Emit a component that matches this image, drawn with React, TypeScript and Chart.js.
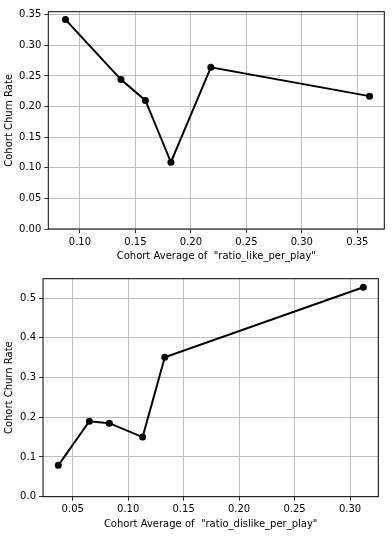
import React, { useEffect, useRef } from "react";
import { Chart, registerables } from "chart.js";

Chart.register(...registerables);

// ---- Data ----
const likeX = [0.087, 0.137, 0.159, 0.182, 0.218, 0.361];
const likeChurn = [0.342, 0.244, 0.210, 0.109, 0.264, 0.217];
const dislikeX = [0.037, 0.065, 0.083, 0.113, 0.133, 0.312];
const dislikeChurn = [0.079, 0.190, 0.185, 0.150, 0.351, 0.527];

const likeXTicks = [0.10, 0.15, 0.20, 0.25, 0.30, 0.35];
const likeYTicks = [0.0, 0.05, 0.10, 0.15, 0.20, 0.25, 0.30, 0.35];
const dislikeXTicks = [0.05, 0.10, 0.15, 0.20, 0.25, 0.30];
const dislikeYTicks = [0.0, 0.1, 0.2, 0.3, 0.4, 0.5];

const likeXLabel = 'Cohort Average of  "ratio_like_per_play"';
const dislikeXLabel = 'Cohort Average of  "ratio_dislike_per_play"';
const yLabel = "Cohort Churn Rate";

const FONT = "'DejaVu Sans', sans-serif";

const framePlugin = {
  id: "frame",
  afterDatasetsDraw(chart: any) {
    const { ctx, chartArea: a } = chart;
    ctx.save();
    ctx.strokeStyle = "#000";
    ctx.lineWidth = 1;
    ctx.strokeRect(a.left, a.top, a.right - a.left, a.bottom - a.top);
    ctx.restore();
  },
};

type PanelProps = {
  xs: number[];
  ys: number[];
  xTicks: number[];
  yTicks: number[];
  xRange: [number, number];
  yRange: [number, number];
  xDec: number;
  yDec: number;
  xTitle: string;
  width: number;
  height: number;
  yAxisWidth: number;
  xAxisHeight: number;
  padTop: number;
  padRight: number;
  xTitlePad: number;
};

function Panel(p: PanelProps) {
  const ref = useRef<HTMLCanvasElement | null>(null);
  useEffect(() => {
    if (!ref.current) return;
    const pts = p.xs.map((x, i) => ({ x, y: p.ys[i] }));
    const gridCommon = {
      color: "#b0b0b0",
      lineWidth: 0.8,
      tickColor: "#000",
      tickLength: 4,
      tickWidth: 0.8,
      drawTicks: true,
    };
    const chart = new Chart(ref.current, {
      type: "line",
      data: {
        datasets: [
          {
            data: pts,
            borderColor: "#000",
            backgroundColor: "#000",
            borderWidth: 2,
            pointRadius: 3.5,
            pointBackgroundColor: "#000",
            pointBorderColor: "#000",
            pointBorderWidth: 0,
            tension: 0,
            fill: false,
          },
        ],
      },
      options: {
        responsive: false,
        animation: false,
        devicePixelRatio: 1,
        layout: { padding: { top: p.padTop, right: p.padRight, left: 0, bottom: 0 } },
        plugins: { legend: { display: false }, tooltip: { enabled: false } },
        scales: {
          x: {
            type: "linear",
            min: p.xRange[0],
            max: p.xRange[1],
            grid: gridCommon,
            border: { display: false },
            afterBuildTicks: (s: any) => {
              s.ticks = p.xTicks.map((v) => ({ value: v }));
            },
            afterFit: (s: any) => {
              s.height = p.xAxisHeight;
            },
            ticks: {
              color: "#000",
              font: { family: FONT, size: 10 },
              padding: 3,
              maxRotation: 0,
              autoSkip: false,
              callback: (v: any) => Number(v).toFixed(p.xDec),
            },
            title: {
              display: true,
              text: p.xTitle,
              color: "#000",
              font: { family: FONT, size: 10 },
              padding: { top: 0, bottom: p.xTitlePad },
            },
          },
          y: {
            type: "linear",
            min: p.yRange[0],
            max: p.yRange[1],
            grid: gridCommon,
            border: { display: false },
            afterBuildTicks: (s: any) => {
              s.ticks = p.yTicks.map((v) => ({ value: v }));
            },
            afterFit: (s: any) => {
              s.width = p.yAxisWidth;
            },
            ticks: {
              color: "#000",
              font: { family: FONT, size: 10 },
              padding: 3,
              autoSkip: false,
              callback: (v: any) => Number(v).toFixed(p.yDec),
            },
            title: {
              display: true,
              text: yLabel,
              color: "#000",
              font: { family: FONT, size: 10 },
              padding: { top: 3, bottom: 3 },
            },
          },
        },
      },
      plugins: [framePlugin],
    } as any);
    return () => chart.destroy();
  }, []);
  return (
    <canvas
      ref={ref}
      width={p.width}
      height={p.height}
      style={{ display: "block", width: p.width, height: p.height }}
    />
  );
}

export default function App() {
  return (
    <div style={{ position: "absolute", left: 0, top: 0, width: 392, height: 537, background: "#fff" }}>
      <Panel
        xs={likeX}
        ys={likeChurn}
        xTicks={likeXTicks}
        yTicks={likeYTicks}
        xRange={[0.0715, 0.3743]}
        yRange={[0, 0.3549]}
        xDec={2}
        yDec={2}
        xTitle={likeXLabel}
        width={392}
        height={268}
        yAxisWidth={48.3}
        xAxisHeight={39}
        padTop={11.7}
        padRight={7.7}
        xTitlePad={6}
      />
      <Panel
        xs={dislikeX}
        ys={dislikeChurn}
        xTicks={dislikeXTicks}
        yTicks={dislikeYTicks}
        xRange={[0.0232, 0.3255]}
        yRange={[0, 0.5486]}
        xDec={2}
        yDec={1}
        xTitle={dislikeXLabel}
        width={392}
        height={269}
        yAxisWidth={43}
        xAxisHeight={40.3}
        padTop={10.7}
        padRight={13.7}
        xTitlePad={7}
      />
    </div>
  );
}
